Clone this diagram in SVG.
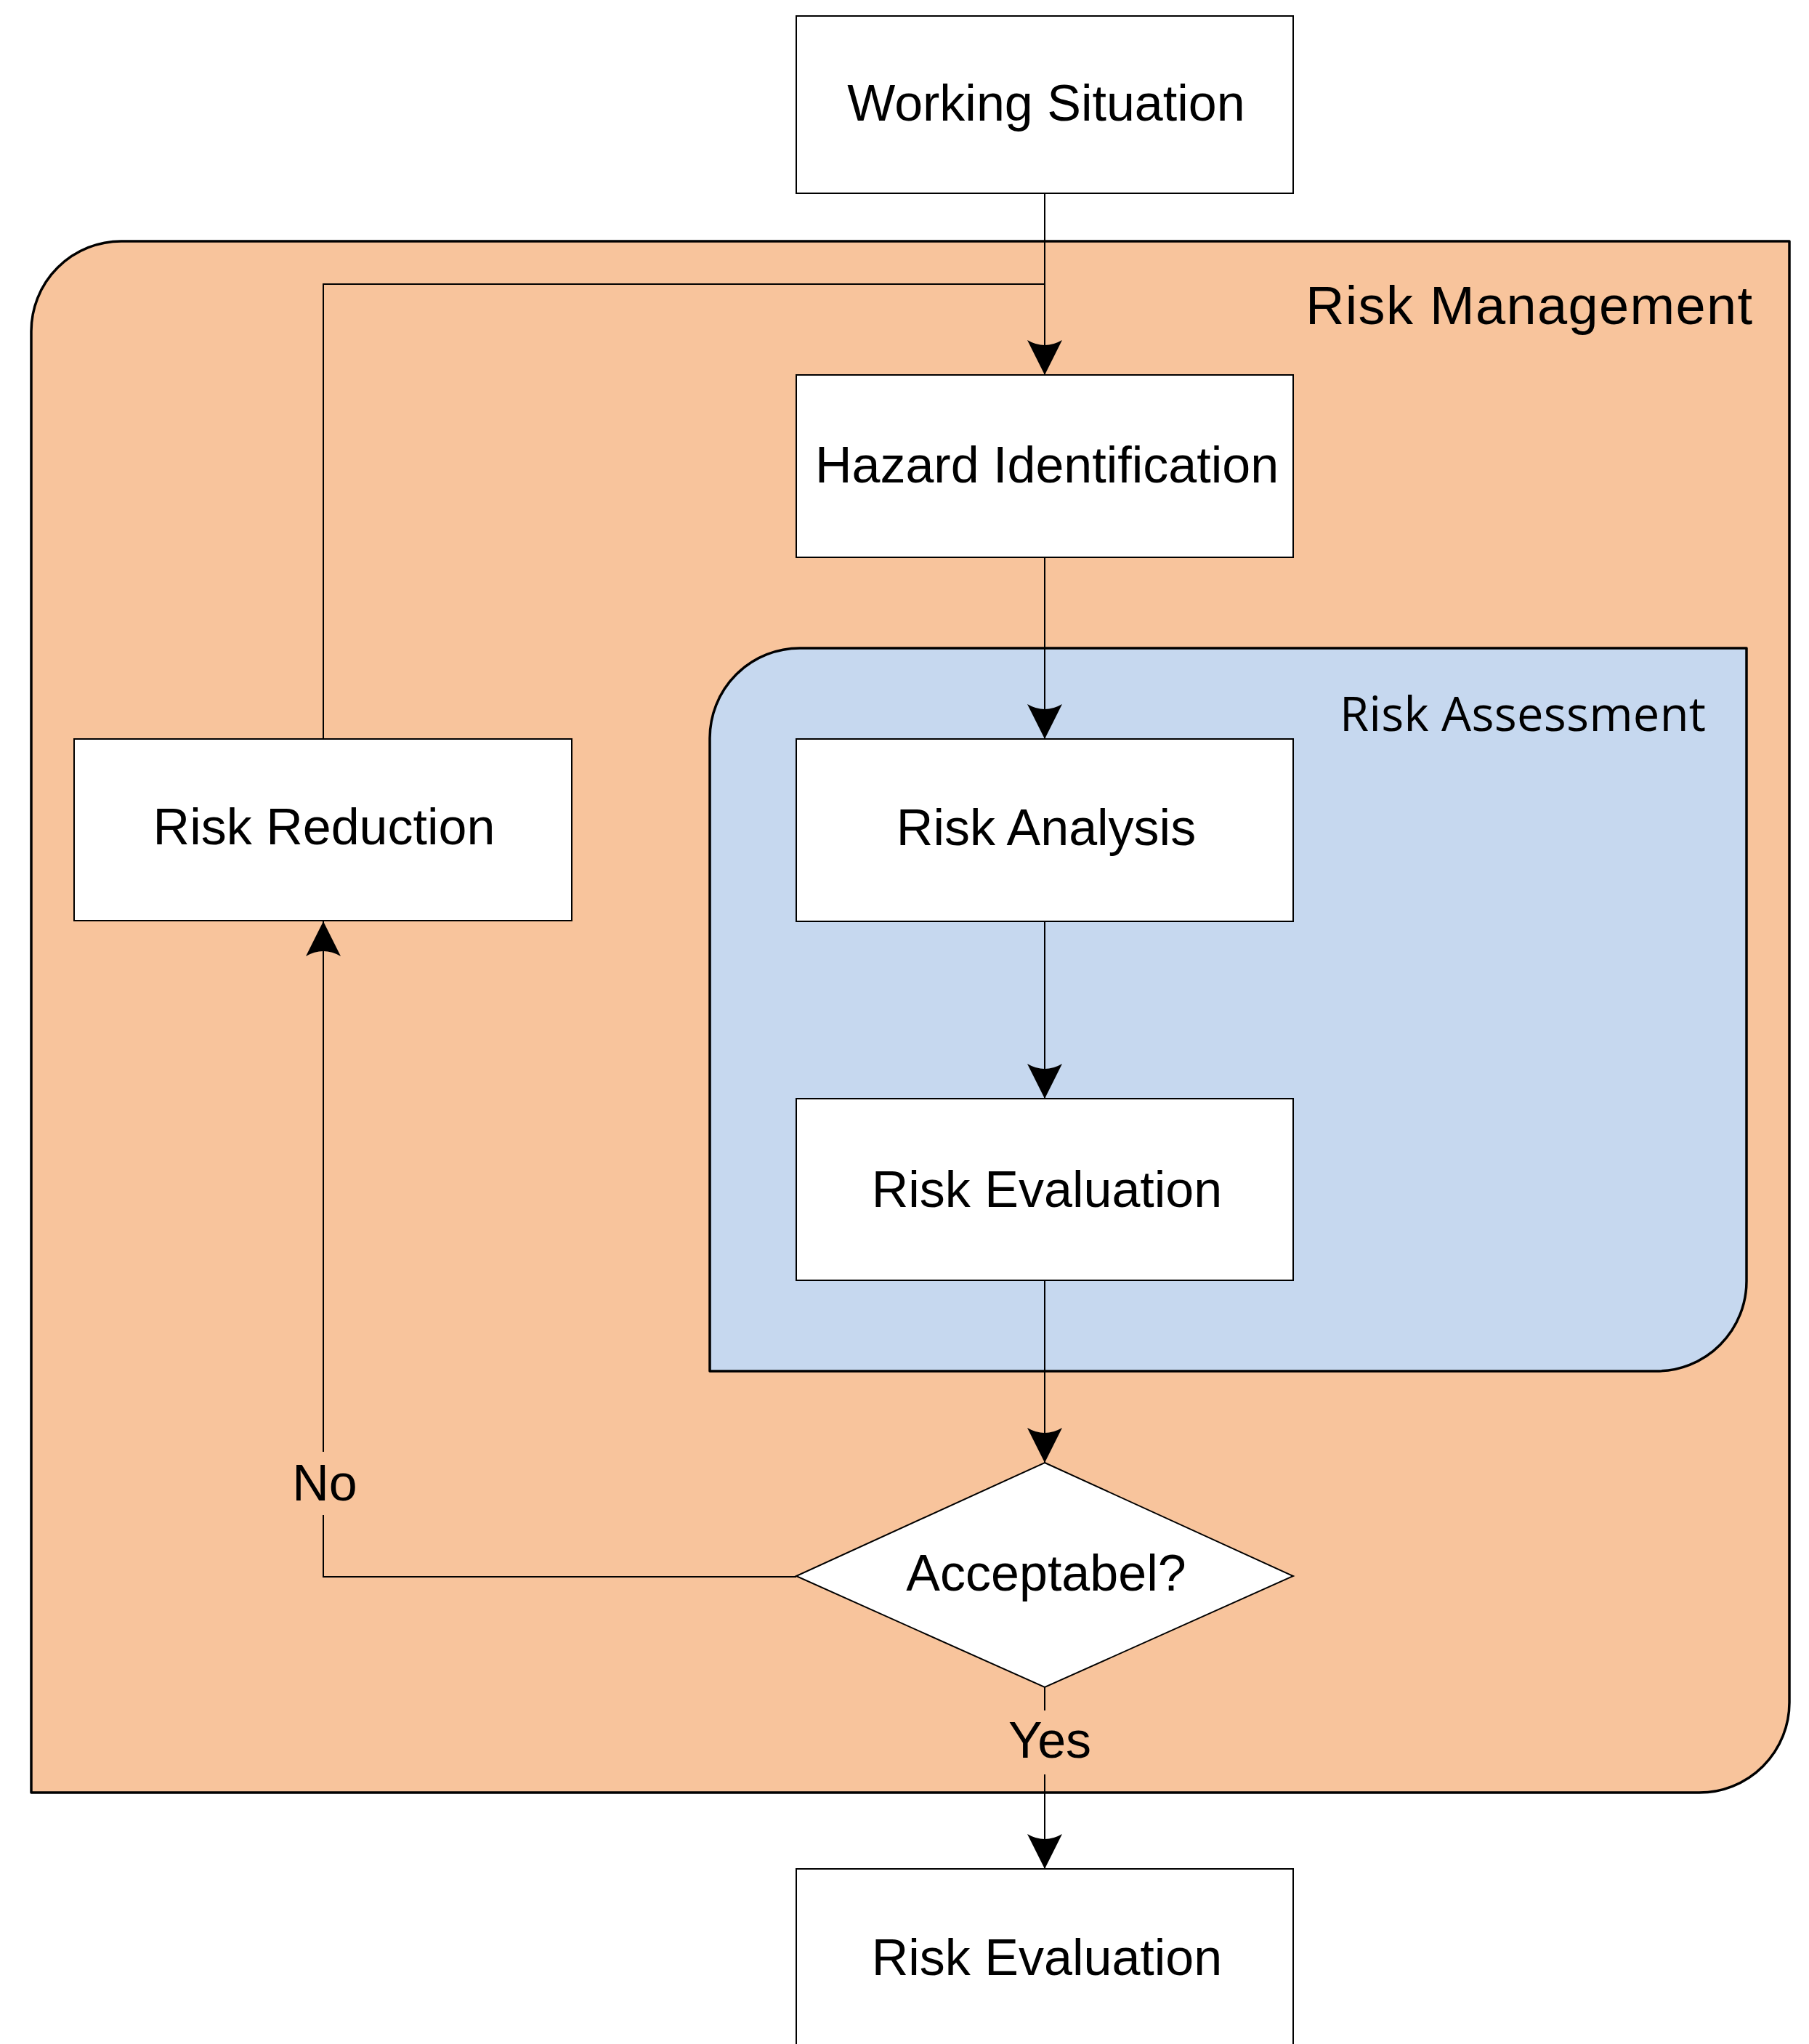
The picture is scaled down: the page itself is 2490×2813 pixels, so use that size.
<svg xmlns="http://www.w3.org/2000/svg" width="2490" height="2813" viewBox="0 0 2490 2813">
  <style>
    .container { stroke: #000; stroke-width: 3.5; stroke-linejoin: round; }
    .mgmt { fill: #F8C49C; }
    .assess { fill: #C6D8EF; }
    .box { fill: #fff; stroke: #000; stroke-width: 2; }
    .label { font-family: "Liberation Sans", Arial, sans-serif; font-size: 70px; fill: #000; }
    .mid { text-anchor: middle; }
    .title1 { font-family: "Liberation Sans", Arial, sans-serif; font-size: 74px; fill: #000; }
    .title2 { font-family: "Open Sans", "Noto Sans", sans-serif; font-size: 65px; fill: #000; }
    .conn { fill: none; stroke: #000; stroke-width: 2; }
  </style>
  <defs>
    <!-- arrowhead with a slightly concave back -->
    <marker id="arrow" viewBox="0 -24 48 48" markerWidth="48" markerHeight="48" refX="48" refY="0" orient="auto" markerUnits="userSpaceOnUse">
      <path d="M0,-24 L48,0 L0,24 Q14,0 0,-24 Z" fill="#000"/>
    </marker>
  </defs>

  <rect width="2490" height="2813" fill="#fff"/>

  <!-- Risk Management container -->
  <g id="risk-management">
    <path class="container mgmt" d="M43,456 A124,124 0 0 1 167,332 H2463 V2343 A124,124 0 0 1 2339,2467 H43 Z"/>
    <text class="title1" x="1797" y="446" textLength="615">Risk Management</text>
  </g>

  <!-- Risk Assessment container -->
  <g id="risk-assessment">
    <path class="container assess" d="M977,1016 A124,124 0 0 1 1101,892 H2404 V1763 A124,124 0 0 1 2280,1887 H977 Z"/>
    <text class="title2" x="1844" y="1006" textLength="504">Risk Assessment</text>
  </g>

  <!-- Connectors -->
  <g id="connectors">
    <path class="conn" d="M1438,266 V516" marker-end="url(#arrow)"/>
    <path class="conn" d="M445,1017 V391 H1438"/>
    <path class="conn" d="M1438,767 V1017" marker-end="url(#arrow)"/>
    <path class="conn" d="M1438,1268 V1512" marker-end="url(#arrow)"/>
    <path class="conn" d="M1438,1762 V2013" marker-end="url(#arrow)"/>
    <!-- "No" branch, broken around its label -->
    <path class="conn" d="M1096,2170 H445 V2085"/>
    <path class="conn" d="M445,1998 V1268" marker-end="url(#arrow)"/>
    <!-- "Yes" branch, broken around its label -->
    <path class="conn" d="M1438,2322 V2354"/>
    <path class="conn" d="M1438,2442 V2572" marker-end="url(#arrow)"/>
    <text class="label mid" x="447" y="2065">No</text>
    <text class="label mid" x="1445" y="2419">Yes</text>
  </g>

  <!-- Process nodes -->
  <g id="working-situation">
    <rect class="box" x="1096" y="22" width="684" height="244"/>
    <text class="label mid" x="1440" y="166">Working Situation</text>
  </g>
  <g id="hazard-identification">
    <rect class="box" x="1096" y="516" width="684" height="251"/>
    <text class="label mid" x="1441" y="664">Hazard Identification</text>
  </g>
  <g id="risk-analysis">
    <rect class="box" x="1096" y="1017" width="684" height="251"/>
    <text class="label mid" x="1440" y="1163">Risk Analysis</text>
  </g>
  <g id="risk-evaluation">
    <rect class="box" x="1096" y="1512" width="684" height="250"/>
    <text class="label mid" x="1441" y="1661">Risk Evaluation</text>
  </g>
  <g id="risk-reduction">
    <rect class="box" x="102" y="1017" width="685" height="250"/>
    <text class="label mid" x="446" y="1162">Risk Reduction</text>
  </g>
  <g id="acceptable">
    <polygon class="box" points="1438,2013 1780,2169 1438,2322 1096,2169"/>
    <text class="label mid" x="1440" y="2189">Acceptabel?</text>
  </g>
  <g id="risk-evaluation-result">
    <rect class="box" x="1096" y="2572" width="684" height="250"/>
    <text class="label mid" x="1441" y="2718">Risk Evaluation</text>
  </g>
</svg>
